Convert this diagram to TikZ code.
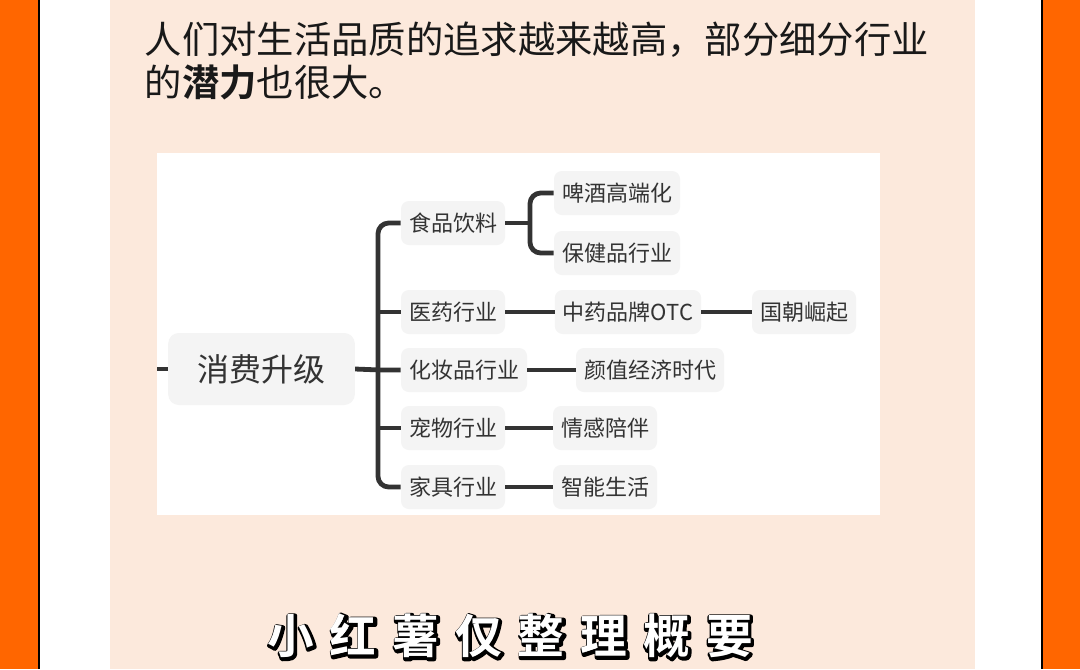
\documentclass[tikz,border=0pt]{standalone}
\usepackage{fontspec}
\setmainfont{Noto Sans CJK SC}
\newfontfamily\cjkb{Noto Sans CJK SC Bold}
\definecolor{org}{HTML}{FF6600}
\definecolor{peach}{HTML}{FCE9DC}
\definecolor{ln}{HTML}{333333}
\definecolor{bx}{HTML}{F4F4F4}
\begin{document}
\begin{tikzpicture}[x=0.75pt,y=-0.75pt,
  lv/.style={fill=bx,rounded corners=6pt,text=ln,font=\fontsize{16.5}{18}\selectfont,inner xsep=6pt,minimum height=33pt},
  conn/.style={draw=ln,line width=3.6pt},
  br/.style={draw=ln,line width=3.6pt,rounded corners=8pt}]
\useasboundingbox (0,0) rectangle (1080,669);
\fill[org] (0,0) rectangle (1080,669);
\fill[white] (40,0) rectangle (1041,669);
\draw[black,line width=1.5pt] (39,0)--(39,669) (1041.5,0)--(1041.5,669);
\fill[peach] (110,0) rectangle (975,669);
\node[anchor=west,font=\fontsize{28}{32}\selectfont,text=black!90] (t1) at (140,40) {人们对生活品质的追求越来越高，部分细分行业};
\node[anchor=west,font=\fontsize{28}{32}\selectfont,text=black!90] (t2) at (140,82) {的{\cjkb 潜力}也很大。};
\fill[white] (157,153) rectangle (880,515);
\node[fill=bx,rounded corners=8pt,text=ln,font=\fontsize{24}{28}\selectfont,minimum width=140pt,minimum height=54pt] (root) at (261.5,369) {消费升级};
\coordinate (stub) at (157,369);
\draw[conn] (stub)--(root.west);
\node[lv] (a) at (453,223) {食品饮料};
\node[lv] (b) at (453,312) {医药行业};
\node[lv] (c) at (464,370) {化妆品行业};
\node[lv] (d) at (453,428) {宠物行业};
\node[lv] (e) at (453,487) {家具行业};
\node[lv] (a1) at (617,193) {啤酒高端化};
\node[lv] (a2) at (617,253) {保健品行业};
\node[lv] (b1) at (628,312) {中药品牌OTC};
\node[lv] (b2) at (804,312) {国朝崛起};
\node[lv] (c1) at (650,370) {颜值经济时代};
\node[lv] (d1) at (605,428) {情感陪伴};
\node[lv] (e1) at (605,487) {智能生活};
\draw[conn] (root.east)--(380,370)--(c.west);
\draw[br] (a.west)--(378,223)--(378,487)--(e.west);
\draw[br] (378,312)--(b.west) (378,428)--(d.west);
\draw[conn] (a.east)--(530,223);
\draw[br] (a1.west)--(530,193)--(530,253)--(a2.west);
\draw[conn] (b.east)--(b1.west);
\draw[conn] (b1.east)--(b2.west);
\draw[conn] (c.east)--(c1.west);
\draw[conn] (d.east)--(d1.west);
\draw[conn] (e.east)--(e1.west);
\node[font=\cjkb\fontsize{35}{36}\selectfont,text=white] (subo) at (511,637)
 {\special{pdf:literal direct 2 Tr 3.5 w 0 G 1 j}小\hspace{12pt}红\hspace{12pt}薯\hspace{12pt}仅\hspace{12pt}整\hspace{12pt}理\hspace{12pt}概\hspace{12pt}要\special{pdf:literal direct 0 Tr}};
\node[font=\cjkb\fontsize{35}{36}\selectfont,text=white] (sub) at (510,636)
 {小\hspace{12pt}红\hspace{12pt}薯\hspace{12pt}仅\hspace{12pt}整\hspace{12pt}理\hspace{12pt}概\hspace{12pt}要};
\end{tikzpicture}
\end{document}
